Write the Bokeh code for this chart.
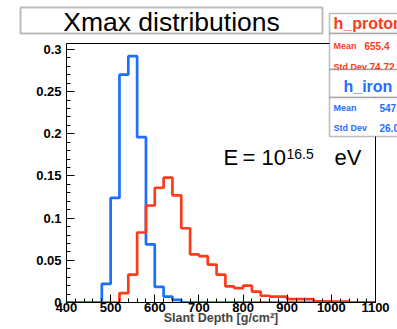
from bokeh.plotting import figure
from bokeh.models import FixedTicker, Label, BoxAnnotation
from bokeh.layouts import column
from bokeh.embed import file_html
from bokeh.resources import INLINE

# ---- data ----
bin_edges = [400 + 20 * i for i in range(36)]  # 400..1100, 20 g/cm2 bins
h_iron = [0, 0, 0, 0, 0.022, 0.124, 0.270, 0.292, 0.196, 0.069, 0.0185, 0.007, 0.003,
          0, 0, 0, 0, 0, 0, 0, 0, 0, 0, 0, 0, 0, 0, 0, 0, 0, 0, 0, 0, 0, 0]
h_proton = [0, 0, 0, 0, 0, 0, 0.011, 0.033, 0.083, 0.115, 0.136, 0.148, 0.127, 0.088,
            0.057, 0.055, 0.045, 0.033, 0.019, 0.017, 0.020, 0.013, 0.008, 0.007, 0.007,
            0.004, 0.004, 0.004, 0.0015, 0.0015, 0.001, 0.001, 0, 0, 0]
x_ticks = [400, 500, 600, 700, 800, 900, 1000, 1100]
x_tick_labels = ["400", "500", "600", "700", "800", "900", "1000", "1100"]
y_ticks = [0, 0.05, 0.1, 0.15, 0.2, 0.25, 0.3]
y_tick_labels = ["0", "0.05", "0.1", "0.15", "0.2", "0.25", "0.3"]
stats_proton = {"name": "h_proton", "Mean": "655.4", "Std Dev": "74.72"}
stats_iron = {"name": "h_iron", "Mean": "547.6", "Std Dev": "26.04"}

RED = "#ff3a1a"
BLUE = "#1e6eff"
FONT = "Liberation Sans"
W, H = 397, 329

p = figure(width=W, height=H, x_range=(400, 1100), y_range=(0, 0.307),
           output_backend="svg", toolbar_location=None,
           min_border_left=66, min_border_right=22, min_border_top=43, min_border_bottom=27)
p.background_fill_color = "white"
p.border_fill_color = "white"
p.outline_line_color = "black"
p.outline_line_width = 1
p.grid.visible = False
p.frame_align = False

# axes
p.xaxis.ticker = FixedTicker(ticks=x_ticks, minor_ticks=list(range(400, 1101, 20)))
p.xaxis.major_label_overrides = {t: l for t, l in zip(x_ticks, x_tick_labels)}
p.yaxis.ticker = FixedTicker(ticks=y_ticks, minor_ticks=[i * 0.01 for i in range(31)])
p.yaxis.major_label_overrides = {t: l for t, l in zip(y_ticks, y_tick_labels)}
for ax in (p.xaxis, p.yaxis):
    ax.major_tick_in = 8
    ax.major_tick_out = 0
    ax.minor_tick_in = 4
    ax.minor_tick_out = 0
    ax.major_label_text_font = FONT
    ax.major_label_text_font_style = "bold"
    ax.major_label_text_font_size = "13px"
    ax.major_label_text_color = "black"
    ax.axis_line_color = "black"
    ax.major_tick_line_color = "black"
    ax.minor_tick_line_color = "black"
p.xaxis.major_label_standoff = 0
p.yaxis.major_label_standoff = 5
p.xaxis.axis_label = "Slant Depth [g/cm²]"
p.xaxis.axis_label_text_font = FONT
p.xaxis.axis_label_text_font_style = "bold"
p.xaxis.axis_label_text_font_size = "12.5px"
p.xaxis.axis_label_standoff = -4

# histograms (step outlines)
p.step(x=bin_edges, y=h_iron + [h_iron[-1]], mode="after", line_color=BLUE, line_width=2.7)
p.step(x=bin_edges, y=h_proton + [h_proton[-1]], mode="after", line_color=RED, line_width=2.7)

# ---- overlay figure for the pads (title box, stats boxes, energy text) ----
ov = figure(width=W, height=H, x_range=(0, W), y_range=(0, H),
            output_backend="svg", toolbar_location=None,
            x_axis_location=None, y_axis_location=None, min_border=0)
ov.grid.visible = False
ov.outline_line_color = None
ov.background_fill_alpha = 0
ov.border_fill_alpha = 0
ov.margin = (-H, 0, 0, 0)
ov.frame_align = False

def box(l, t, r, b, lw=1.5):
    ov.add_layout(BoxAnnotation(left=l, right=r, top=H - t, bottom=H - b,
                                fill_color="white", fill_alpha=1.0,
                                line_color="#222222", line_width=lw))

def label(text, cx, cy, size, color="black", style="normal", align="left"):
    ov.add_layout(Label(x=cx, y=H - cy, text=text,
                        text_font=FONT, text_font_size=size, text_font_style=style,
                        text_color=color, text_align=align, text_baseline="middle"))

# title box
box(20, 7, 322, 33, lw=2)
label("Xmax distributions", 171, 21, "26.5px", align="center")

# stats boxes
box(329, 13, 412, 33)
box(329, 33, 412, 69)
label(stats_proton["name"], 333, 23, "16px", RED, "bold")
label("Mean", 333, 45, "9px", RED, "bold")
label(stats_proton["Mean"], 364, 45, "10px", RED, "bold")
label("Std Dev", 333, 66, "9px", RED, "bold")
label(stats_proton["Std Dev"], 369, 66, "10px", RED, "bold")

box(329, 69, 412, 97)
box(329, 97, 412, 136)
label(stats_iron["name"], 343, 86, "16px", BLUE, "bold")
label("Mean", 333, 107, "9px", BLUE, "bold")
label(stats_iron["Mean"], 379, 107, "10px", BLUE, "bold")
label("Std Dev", 333, 127, "9px", BLUE, "bold")
label(stats_iron["Std Dev"], 379, 127, "10px", BLUE, "bold")

# energy annotation
label("E", 223, 157, "22px")
label("=", 242, 157, "22px")
label("10", 261, 157, "22px")
label("16.5", 286, 153, "14px")
label("eV", 334, 157, "22px")

layout = column(p, ov, spacing=0)
open("out.html", "w").write(file_html(layout, INLINE))
